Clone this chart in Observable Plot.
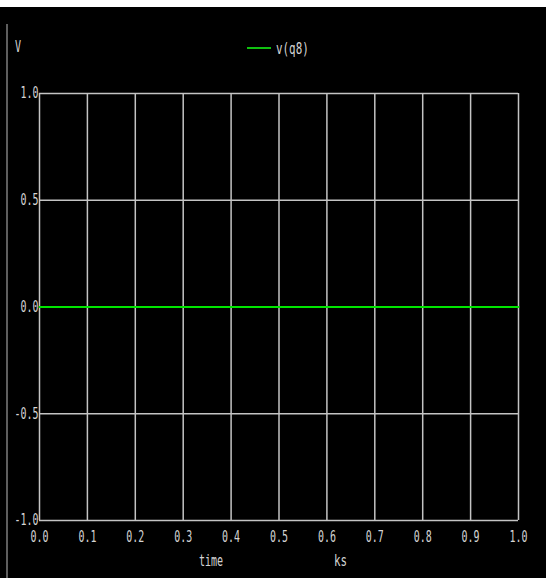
<!DOCTYPE html>
<html>
<head>
<meta charset="utf-8">
<script src="https://cdn.jsdelivr.net/npm/d3@7"></script>
<script src="https://cdn.jsdelivr.net/npm/@observablehq/plot@0.6"></script>
<style>
  html, body { margin: 0; padding: 0; background: #000; }
  #wrap { position: relative; width: 546px; height: 578px; overflow: hidden; background: #000; }
  #topband { height: 7px; background: #fff; }
  .lbl { position: absolute; font-family: "DejaVu Sans Mono", monospace; font-size: 16px; line-height: 16px;
         color: #d4d4d4; white-space: nowrap; transform-origin: left top; transform: scaleX(0.625); }
  #leftbar { position: absolute; left: 6px; top: 24px; width: 2px; height: 554px; background: #5e5e5e; }
  #legline { position: absolute; left: 247px; top: 47px; width: 24px; height: 2px; background: #10c010; }
</style>
</head>
<body>
<div id="wrap">
  <div id="topband"></div>
  <div id="chart"></div>
  <div id="leftbar"></div>
  <div class="lbl" style="left:15px; top:39px;">V</div>
  <div id="legline"></div>
  <div class="lbl" style="left:276px; top:41px; transform: scaleX(0.68);">v(q8)</div>
  <div class="lbl" style="left:199px; top:553px;">time</div>
  <div class="lbl" style="left:334px; top:553px; transform: scaleX(0.68);">ks</div>
</div>
<script>
// Data (time in ks, voltage of node q8 in V)
const timeKs = [0.0, 0.1, 0.2, 0.3, 0.4, 0.5, 0.6, 0.7, 0.8, 0.9, 1.0];
const vq8    = [0, 0, 0, 0, 0, 0, 0, 0, 0, 0, 0];
const xTicks = [0.0, 0.1, 0.2, 0.3, 0.4, 0.5, 0.6, 0.7, 0.8, 0.9, 1.0];
const yTicks = [-1.0, -0.5, 0.0, 0.5, 1.0];

const rows = timeKs.map((t, i) => ({t, v: vq8[i]}));
const fmt = d3.format(".1f");

const chart = Plot.plot({
  width: 546,
  height: 571,
  marginTop: 86,
  marginBottom: 58,
  marginLeft: 39,
  marginRight: 28,
  style: {background: "#000", color: "#d4d4d4", fontFamily: "DejaVu Sans Mono", fontSize: "15px"},
  x: {domain: [0, 1], ticks: xTicks, tickFormat: d => fmt(d), tickSize: 0, tickPadding: 11, label: null},
  y: {domain: [-1, 1], ticks: yTicks, tickFormat: d => fmt(d).replace("−", "-"), tickSize: 0, tickPadding: 1, label: null},
  marks: [
    Plot.ruleX(xTicks, {stroke: "#c4c4c4", strokeWidth: 1.5}),
    Plot.ruleY(yTicks, {stroke: "#c4c4c4", strokeWidth: 1.5}),
    Plot.line(rows, {x: "t", y: "v", stroke: "#00e600", strokeWidth: 2})
  ]
});
document.getElementById("chart").appendChild(chart);
chart.querySelectorAll("text").forEach(t => {
  const n = t.textContent.length;
  t.setAttribute("textLength", n * 6);
  t.setAttribute("lengthAdjust", "spacingAndGlyphs");
});
</script>
</body>
</html>
